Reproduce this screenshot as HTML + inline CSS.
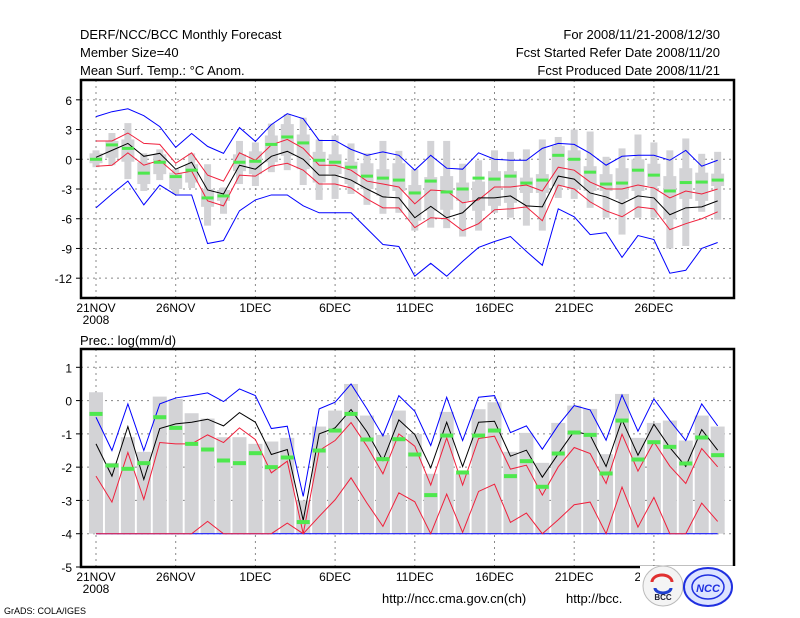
<!DOCTYPE html>
<html><head><meta charset="utf-8"><style>
html,body{margin:0;padding:0;background:#fff;}
svg{display:block;font-family:"Liberation Sans",sans-serif;}
</style></head><body>
<svg id="c" width="800" height="618" xmlns="http://www.w3.org/2000/svg">
<rect width="800" height="618" fill="#fff"/>
<g font-size="13" fill="#000">
<text x="80" y="39">DERF/NCC/BCC Monthly Forecast</text>
<text x="80" y="57">Member Size=40</text>
<text x="80" y="75">Mean Surf. Temp.: °C Anom.</text>
<text x="720" y="39" text-anchor="end">For 2008/11/21-2008/12/30</text>
<text x="720" y="57" text-anchor="end">Fcst Started Refer Date 2008/11/20</text>
<text x="720" y="75" text-anchor="end">Fcst Produced Date 2008/11/21</text>
<text x="80" y="345">Prec.: log(mm/d)</text>
<text x="382" y="603">http://ncc.cma.gov.cn(ch)</text>
<text x="566" y="603">http://bcc.</text>
<text x="4" y="614" font-size="9">GrADS: COLA/IGES</text>
</g>
<g id="top"></g>
<g id="bot"></g>
<g>
<rect x="640" y="566" width="100" height="42" fill="#fff"/>
<circle cx="663" cy="586" r="20" fill="#f4f4f4" stroke="#bbb"/>
<path d="M652 582 a10 7 0 1 1 20 0" fill="none" stroke="#e03030" stroke-width="3"/>
<path d="M655 588 a8 5 0 0 0 16 0" fill="none" stroke="#2040d0" stroke-width="3"/>
<text x="663" y="600" font-size="8" font-weight="bold" text-anchor="middle" fill="#223">BCC</text>
<ellipse cx="708" cy="587" rx="24" ry="19" fill="#dde4ff" stroke="#2030e0" stroke-width="2"/>
<ellipse cx="708" cy="587" rx="16" ry="12" fill="none" stroke="#2030e0" stroke-width="1.5"/>
<text x="708" y="592" font-size="11" font-style="italic" font-weight="bold" text-anchor="middle" fill="#2030e0">NCC</text>
</g>
</svg>
<script>
// ---- Temperature data (day 0 = 21NOV ... day 39 = 30DEC)
const tBlueMax=[4.3,4.8,5.1,4.4,3.3,1.2,2.6,1.3,0.6,3.2,1.8,3.5,4.6,4.1,1.9,1.9,1.0,0.4,0.75,0.4,-1.1,0.4,-0.9,-1.0,0.65,0,-0.1,-0.1,1.1,1.6,1.5,0.6,-0.6,0.3,0.4,0.4,-0.1,0.9,-0.7,-0.1];
const tRedHi=[1.85,1.85,2.65,1.6,1.5,-0.4,0.65,-1.6,-2.2,0.65,-0.1,1.45,2.0,1.1,-0.6,-0.6,-1.1,-2.2,-2.5,-2.8,-4.5,-3.1,-3.2,-4.4,-4.1,-2.8,-2.8,-2.6,-3.2,-0.8,-1.1,-2.3,-3.0,-3.0,-2.6,-2.9,-3.9,-3.2,-3.5,-3.0];
const tMean=[0.2,0.9,1.6,0.3,0.6,-1.0,-0.3,-3.1,-3.5,-0.6,-1.0,0.3,0.8,0,-1.6,-1.6,-2.1,-3.0,-3.8,-3.9,-5.9,-4.75,-5.9,-5.4,-3.9,-3.9,-3.7,-4.7,-4.8,-1.7,-2.0,-3.4,-3.8,-4.5,-3.7,-3.9,-5.6,-4.9,-4.8,-4.2];
const tRedLo=[-0.7,-0.6,0.65,-0.6,-0.1,-1.5,-1.2,-4.2,-4.7,-1.6,-1.7,-0.7,-0.4,-1.1,-2.5,-2.5,-2.9,-4.0,-4.9,-4.9,-6.9,-5.9,-6.0,-7.2,-6.5,-5.1,-5.0,-4.8,-6.2,-2.6,-3.0,-4.3,-5.2,-5.8,-4.8,-5.0,-7.1,-6.5,-6.0,-5.3];
const tBlueMin=[-4.9,-3.5,-2.2,-4.6,-2.6,-3.6,-3.6,-8.5,-8.2,-5.2,-4.1,-3.6,-3.6,-4.7,-5.4,-5.4,-5.4,-7.0,-8.6,-8.8,-11.8,-10.5,-11.8,-10.3,-8.9,-8.3,-7.8,-9.3,-10.7,-5.0,-5.8,-7.6,-7.4,-9.9,-7.7,-8.1,-11.5,-11.2,-9.0,-8.4];
const tObs=[0,1.45,1.1,-1.4,-0.3,-1.75,-1.1,-3.9,-3.7,-0.3,-0.2,1.5,2.25,1.65,-0.1,-0.3,-0.8,-1.7,-1.9,-2.1,-3.4,-2.2,-3.3,-3.0,-1.9,-2.0,-1.7,-2.4,-2.1,0.4,0,-1.3,-2.5,-2.4,-1.1,-1.6,-3.2,-2.35,-2.3,-2.1];
const tWhiskHi=[0.9,2.65,3.65,0.6,1.0,-1.0,0.6,-0.5,-2.85,1.85,1.7,3.6,4.55,4.2,2.0,2.4,1.6,0.6,1.85,0.85,-1.0,1.85,1.85,-0.45,-0.1,0.9,0.75,1.0,2.0,2.25,3.0,2.8,0.25,1.1,2.5,1.7,0.9,2.1,0.55,0.75];
const tWhiskLo=[-0.8,-0.6,-2.0,-3.2,-2.1,-3.5,-2.9,-6.7,-5.5,-2.5,-2.7,-1.3,-1.1,-2.6,-4.1,-4.0,-3.5,-4.6,-5.5,-5.4,-7.2,-6.9,-6.95,-7.8,-7.2,-5.4,-5.9,-6.7,-7.2,-3.9,-4.0,-4.9,-5.9,-7.6,-5.9,-5.9,-9.0,-8.75,-5.3,-6.1];
const tBoxHi=[0.6,1.85,2.0,-0.3,0.5,-1.35,-0.5,-3.0,-3.1,0.5,0.8,2.4,3.55,2.5,0.75,0.5,-0.25,-0.4,-1.0,-0.4,-2.6,-1.8,-1.7,-2.35,-2.25,-1.2,-1.2,-1.85,-1.5,1.35,0.9,-0.7,-1.5,-0.9,0,-0.45,-1.7,-0.9,-1.35,-1.45];
const tBoxLo=[-0.4,0.15,-0.25,-2.5,-1.5,-3.0,-2.35,-4.8,-4.2,-1.2,-1.5,-0.3,0.35,-1.0,-2.35,-1.5,-2.5,-3.0,-3.7,-3.2,-6.2,-5.2,-5.1,-4.2,-5.2,-4.7,-4.4,-3.4,-3.4,-2.7,-3.0,-3.2,-3.2,-4.0,-3.2,-2.7,-6.05,-4.0,-4.2,-2.7];
const tTicks=[6,3,0,-3,-6,-9,-12];
// ---- Precipitation data
const pBlueMax=[-0.5,-1.5,-0.1,-1.5,-0.1,0.08,0.15,0.23,-0.03,0.35,0.15,-0.84,-0.77,-2.88,-0.25,-0.05,0.5,-0.25,-1.06,0.15,-0.32,-1.35,0.1,-1.2,0.1,0.15,-0.96,-0.76,-1.46,-0.74,-0.15,-0.28,-1.19,0.17,-0.92,0.05,-0.6,-1.2,-0.1,-0.76];
const pRedHi=[-2.27,-3.05,-1.56,-2.97,-1.26,-1.3,-1.3,-1.03,-1.26,-0.82,-1.17,-2.17,-1.82,-4.0,-1.5,-1.2,-0.66,-1.37,-2.2,-1.0,-1.37,-2.54,-1.12,-2.54,-1.14,-1.07,-2.06,-1.94,-2.84,-1.99,-1.41,-1.59,-2.49,-1.01,-2.12,-1.24,-1.97,-2.49,-1.44,-1.99];
const pMean=[-1.3,-2.27,-0.78,-2.37,-0.84,-0.7,-0.65,-0.56,-0.76,-0.36,-0.65,-1.62,-1.47,-3.6,-1.0,-0.82,-0.27,-0.94,-1.8,-0.58,-1.02,-2.02,-0.65,-1.98,-0.65,-0.62,-1.67,-1.49,-2.3,-1.6,-0.92,-1.04,-1.98,-0.58,-1.64,-0.71,-1.41,-1.98,-0.87,-1.49];
const pRedLo=[-4,-4,-4,-4,-4,-4,-4,-3.63,-4,-4,-4,-4,-3.68,-4,-3.48,-2.98,-2.32,-3.08,-3.78,-2.77,-3.04,-4,-2.81,-3.96,-2.73,-2.51,-3.66,-3.38,-4,-3.58,-3.13,-3.05,-4,-2.6,-3.8,-2.91,-4,-4,-3.08,-3.63];
const pBlueMin=[-4,-4,-4,-4,-4,-4,-4,-4,-4,-4,-4,-4,-4,-4,-4,-4,-4,-4,-4,-4,-4,-4,-4,-4,-4,-4,-4,-4,-4,-4,-4,-4,-4,-4,-4,-4,-4,-4,-4,-4];
const pObs=[-0.4,-1.95,-2.05,-1.88,-0.5,-0.82,-1.3,-1.47,-1.8,-1.88,-1.58,-2.0,-1.71,-3.65,-1.5,-0.9,-0.4,-1.17,-1.76,-1.16,-1.62,-2.84,-1.05,-2.16,-1.05,-0.9,-2.27,-1.82,-2.59,-1.59,-0.96,-1.03,-2.19,-0.6,-1.77,-1.25,-1.39,-1.89,-1.11,-1.64];
const pTop=[0.25,-1.87,-1.1,-1.54,0.12,0.05,-0.38,-0.54,-1.1,-1.1,-1.3,-1.23,-1.12,-3.0,-0.78,-0.3,0.5,-0.45,-1.03,-0.3,-1.0,-2.2,-0.34,-2.2,-0.26,-0.05,-1.54,-0.97,-1.87,-0.67,-0.15,-0.25,-1.61,0.2,-1.12,-0.67,-0.6,-1.2,-0.45,-0.78];
const pTicks=[1,0,-1,-2,-3,-4,-5];
const xLabels=["21NOV","26NOV","1DEC","6DEC","11DEC","16DEC","21DEC","26DEC"];

const NS="http://www.w3.org/2000/svg";
function mk(parent,tag,attrs){const e=document.createElementNS(NS,tag);for(const k in attrs)e.setAttribute(k,attrs[k]);parent.appendChild(e);return e;}
const xDay=i=>96+i*15.94;
function panel(g,top,bot,vMax,vMin,ticks,name){
  const y=v=>top+(vMax-v)/(vMax-vMin)*(bot-top);
  // grid
  for(const t of ticks){
    const gl=mk(g,'line',{x1:81,x2:734,y1:y(t),y2:y(t),stroke:'#888','stroke-dasharray':'2,4','stroke-width':1});
    
    
    const tk=mk(g,'line',{x1:76,x2:81,y1:y(t),y2:y(t),stroke:'#000'});
    
    
    const tl=mk(g,'text',{x:72,y:y(t)+5,'text-anchor':'end','font-size':12});
    tl.textContent=t;
    
    
  }
  xLabels.forEach((lab,k)=>{
    const xx=xDay(k*5);
    const gl=mk(g,'line',{x1:xx,x2:xx,y1:top,y2:bot,stroke:'#888','stroke-dasharray':'2,4'});
    
    
    const tl=mk(g,'text',{x:xx,y:bot+14,'text-anchor':'middle','font-size':12});
    tl.textContent=lab;
    
    
  });
  const yr=mk(g,'text',{x:xDay(0),y:bot+26,'text-anchor':'middle','font-size':12});
  yr.textContent='2008';
  
  
  return y;
}
function line(g,vals,y,color,name){
  const p=mk(g,'polyline',{points:vals.map((v,i)=>xDay(i)+','+y(v)).join(' '),fill:'none',stroke:color,'stroke-width':1});
  
  
}
function obs(g,vals,y,w,h,name){
  vals.forEach((v,i)=>{
    const r=mk(g,'rect',{x:xDay(i)-w/2,y:y(v)-h/2,width:w,height:h,fill:'#4ee84e'});
    
    
  });
}
function frame(g,top,bot,name){
  const f=mk(g,'rect',{x:81,y:top,width:653,height:bot-top,fill:'none',stroke:'#000','stroke-width':2.5});
  
  
}
// top panel
const gt=document.getElementById('top');
const yT=panel(gt,80,298,8,-14,tTicks);
tWhiskHi.forEach((v,i)=>{
  const r=mk(gt,'rect',{x:xDay(i)-3.5,y:yT(v),width:7,height:yT(tWhiskLo[i])-yT(v),fill:'#d3d3d6'});
  
  
  const b=mk(gt,'rect',{x:xDay(i)-6.5,y:yT(tBoxHi[i]),width:13,height:yT(tBoxLo[i])-yT(tBoxHi[i]),fill:'#d3d3d6'});
  
  
});
line(gt,tBlueMax,yT,'#0000ff','temp-max-line');
line(gt,tBlueMin,yT,'#0000ff','temp-min-line');
line(gt,tRedHi,yT,'#f0203c','temp-upper-line');
line(gt,tRedLo,yT,'#f0203c','temp-lower-line');
line(gt,tMean,yT,'#000','temp-mean-line');
obs(gt,tObs,yT,12,3,'temp-observed-mark');
frame(gt,80,298,'temp-frame');
// bottom panel
const gb=document.getElementById('bot');
const yB=panel(gb,349,567,1.55,-5,pTicks);
pTop.forEach((v,i)=>{
  const b=mk(gb,'rect',{x:xDay(i)-7,y:yB(v),width:14,height:yB(-4)-yB(v),fill:'#d3d3d6'});
  
  
});
line(gb,pBlueMin,yB,'#0000ff','prec-min-line');
line(gb,pRedLo,yB,'#f0203c','prec-lower-line');
line(gb,pRedHi,yB,'#f0203c','prec-upper-line');
line(gb,pBlueMax,yB,'#0000ff','prec-max-line');
line(gb,pMean,yB,'#000','prec-mean-line');
obs(gb,pObs,yB,13,4,'prec-observed-mark');
frame(gb,349,567,'prec-frame');
</script>
</body></html>
